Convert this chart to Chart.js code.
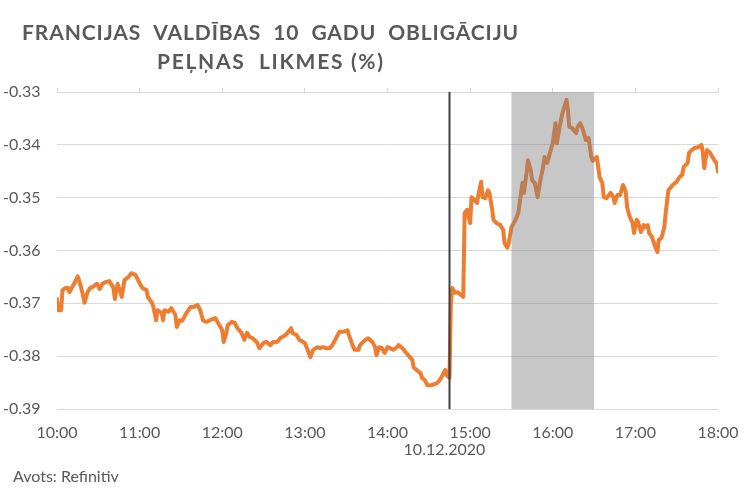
<!DOCTYPE html>
<html>
<head>
<meta charset="utf-8">
<script src="https://cdn.jsdelivr.net/npm/chart.js@4.4.1/dist/chart.umd.min.js"></script>
<style>
  html, body { margin: 0; padding: 0; background: #ffffff; }
  #wrap { width: 750px; height: 488px; }
</style>
</head>
<body>
<div id="wrap"><canvas id="c" width="750" height="488"></canvas></div>
<script>
// ---- Data (minutes after 10:00 on 10.12.2020, yield in %) ----
const titleLines = ["FRANCIJAS  VALDĪBAS  10  GADU  OBLIGĀCIJU", "PEĻŅAS  LIKMES (%)"];
const sourceText = "Avots: Refinitiv";
const dateLabel = "10.12.2020";
const yTicks = [-0.39, -0.38, -0.37, -0.36, -0.35, -0.34, -0.33];
const xTickHours = ["10:00", "11:00", "12:00", "13:00", "14:00", "15:00", "16:00", "17:00", "18:00"];
const markerMinute = 285;      // 14:45 vertical line
const shadeStartMinute = 330;  // 15:30
const shadeEndMinute = 390;    // 16:30

const minutes = [
  0, 1, 3, 4, 6, 8, 9, 12, 15, 16, 18, 20, 22, 24, 26, 29, 31, 33, 35, 38,
  41, 42, 44, 46, 47, 49, 52, 54, 57, 60, 62, 65, 66, 69, 70, 72, 73, 76, 77, 78,
  81, 83, 86, 87, 89, 91, 94, 97, 99, 102, 104, 106, 108, 109, 111, 115, 117, 120, 121, 123,
  124, 127, 129, 131, 134, 136, 138, 140, 142, 145, 147, 150, 152, 155, 157, 160, 162, 166, 168, 170,
  171, 174, 176, 180, 182, 184, 186, 189, 191, 193, 196, 198, 200, 203, 205, 208, 211, 212, 214, 216,
  219, 220, 224, 226, 229, 231, 232, 234, 236, 238, 240, 242, 244, 247, 248, 251, 253, 255, 258, 259,
  261, 264, 265, 267, 269, 272, 276, 278, 280, 282, 283, 285, 286, 287, 289, 291, 295, 296, 298, 299,
  300, 301, 303, 305, 306, 308, 309, 311, 313, 314, 316, 317, 319, 322, 324, 325, 327, 328, 330, 333,
  335, 336, 338, 339, 341, 342, 344, 345, 347, 349, 351, 353, 354, 356, 358, 360, 362, 363, 365, 367,
  370, 371, 372, 374, 375, 377, 378, 380, 382, 384, 386, 388, 389, 392, 394, 396, 397, 399, 402, 404,
  405, 407, 409, 411, 413, 414, 416, 418, 419, 421, 422, 424, 426, 427, 429, 430, 432, 434, 436, 437,
  439, 441, 442, 444, 447, 450, 452, 454, 455, 458, 459, 461, 463, 466, 468, 469, 470, 472, 474, 476,
  478, 479, 480
];
const yields = [
  -0.3692, -0.3713, -0.3713, -0.3675, -0.3671, -0.3671, -0.3679, -0.3665, -0.3649, -0.3656, -0.3675, -0.3699, -0.3680, -0.3671, -0.3669, -0.3663, -0.3673, -0.3663, -0.3660, -0.3658,
  -0.3671, -0.3692, -0.3663, -0.3679, -0.3688, -0.3656, -0.3650, -0.3643, -0.3646, -0.3662, -0.3671, -0.3675, -0.3688, -0.3699, -0.3707, -0.3732, -0.3713, -0.3718, -0.3732, -0.3713,
  -0.3716, -0.3709, -0.3722, -0.3745, -0.3732, -0.3733, -0.3718, -0.3707, -0.3707, -0.3703, -0.3713, -0.3732, -0.3735, -0.3735, -0.3732, -0.3728, -0.3737, -0.3751, -0.3773, -0.3756,
  -0.3741, -0.3735, -0.3737, -0.3747, -0.3756, -0.3769, -0.3756, -0.3764, -0.3766, -0.3773, -0.3785, -0.3775, -0.3773, -0.3779, -0.3773, -0.3773, -0.3766, -0.3760, -0.3754, -0.3747,
  -0.3756, -0.3760, -0.3769, -0.3775, -0.3788, -0.3802, -0.3788, -0.3783, -0.3785, -0.3783, -0.3785, -0.3785, -0.3779, -0.3764, -0.3754, -0.3754, -0.3751, -0.3760, -0.3775, -0.3788,
  -0.3788, -0.3779, -0.3769, -0.3766, -0.3773, -0.3783, -0.3798, -0.3783, -0.3785, -0.3794, -0.3783, -0.3785, -0.3788, -0.3783, -0.3779, -0.3785, -0.3792, -0.3798, -0.3807, -0.3821,
  -0.3826, -0.3832, -0.3841, -0.3845, -0.3855, -0.3855, -0.3851, -0.3845, -0.3836, -0.3826, -0.3836, -0.3841, -0.3700, -0.3671, -0.3680, -0.3679, -0.3688, -0.3529, -0.3523, -0.3537,
  -0.3548, -0.3499, -0.3504, -0.3510, -0.3495, -0.3470, -0.3499, -0.3501, -0.3486, -0.3491, -0.3523, -0.3542, -0.3548, -0.3552, -0.3561, -0.3586, -0.3595, -0.3586, -0.3556, -0.3542,
  -0.3529, -0.3510, -0.3472, -0.3491, -0.3453, -0.3429, -0.3448, -0.3467, -0.3472, -0.3499, -0.3467, -0.3442, -0.3423, -0.3434, -0.3415, -0.3397, -0.3359, -0.3397, -0.3366, -0.3340,
  -0.3315, -0.3334, -0.3366, -0.3368, -0.3372, -0.3378, -0.3366, -0.3359, -0.3372, -0.3391, -0.3387, -0.3423, -0.3430, -0.3423, -0.3461, -0.3472, -0.3499, -0.3501, -0.3491, -0.3499,
  -0.3510, -0.3495, -0.3495, -0.3476, -0.3489, -0.3518, -0.3537, -0.3548, -0.3567, -0.3542, -0.3546, -0.3565, -0.3552, -0.3556, -0.3552, -0.3567, -0.3574, -0.3590, -0.3603, -0.3580,
  -0.3576, -0.3556, -0.3529, -0.3486, -0.3476, -0.3470, -0.3461, -0.3457, -0.3442, -0.3434, -0.3415, -0.3410, -0.3406, -0.3404, -0.3400, -0.3415, -0.3444, -0.3410, -0.3414, -0.3423,
  -0.3432, -0.3434, -0.3451
];

const points = minutes.map((m, i) => ({ x: m, y: yields[i] }));
const TEXT = '#595959';
const GRID = '#D9D9D9';
const FONT = "Lato, 'Open Sans', sans-serif";
const titleWidths = [496, 226];

const overlayPlugin = {
  id: 'overlay',
  afterDatasetsDraw(chart) {
    const { ctx, chartArea: a, scales } = chart;
    const x = scales.x;
    ctx.save();
    const s0 = x.getPixelForValue(shadeStartMinute), s1 = x.getPixelForValue(shadeEndMinute);
    ctx.fillStyle = 'rgba(127,127,127,0.44)';
    ctx.fillRect(s0, a.top, s1 - s0, a.bottom - a.top);
    const mx = Math.round(x.getPixelForValue(markerMinute)) + 0.5;
    ctx.strokeStyle = '#404040';
    ctx.lineWidth = 2;
    ctx.beginPath();
    ctx.moveTo(mx, a.top);
    ctx.lineTo(mx, a.bottom);
    ctx.stroke();
    ctx.restore();
  },
  afterDraw(chart) {
    const { ctx, scales } = chart;
    ctx.save();
    ctx.fillStyle = TEXT;
    ctx.font = "bold 21px " + FONT;
    ctx.textAlign = 'left';
    ctx.textBaseline = 'middle';
    const cx = 270;
    [[titleLines[0], 33], [titleLines[1], 62]].forEach(([t, y], i) => {
      ctx.letterSpacing = '0px';
      const w0 = ctx.measureText(t).width;
      const n = [...t].length;
      const ls = Math.max(0, (titleWidths[i] - w0) / (n - 1));
      ctx.letterSpacing = ls.toFixed(2) + 'px';
      ctx.fillText(t, cx - titleWidths[i] / 2, y);
    });
    ctx.letterSpacing = '0px';
    ctx.font = "16px " + FONT;
    ctx.textAlign = 'center';
    ctx.fillText(dateLabel, scales.x.getPixelForValue(markerMinute) - 5, 450);
    ctx.textAlign = 'left';
    ctx.fillText(sourceText, 13, 477);
    ctx.restore();
  }
};

function noSidePadding(scale) { scale.paddingLeft = 0; scale.paddingRight = 0; }

new Chart(document.getElementById('c'), {
  type: 'line',
  data: {
    datasets: [{
      data: points,
      borderColor: '#ED7D31',
      borderWidth: 4,
      pointRadius: 0,
      tension: 0,
      fill: false,
      borderJoinStyle: 'round',
      borderCapStyle: 'round'
    }]
  },
  options: {
    responsive: false,
    animation: false,
    devicePixelRatio: 1,
    layout: { padding: { top: 88, left: 3, right: 32, bottom: 0 } },
    plugins: { legend: { display: false }, tooltip: { enabled: false }, title: { display: false } },
    scales: {
      x: {
        type: 'linear', position: 'bottom', min: 0, max: 480,
        afterBuildTicks(scale) { scale.ticks = xTickHours.map((_, i) => ({ value: i * 60 })); },
        ticks: {
          autoSkip: false, maxRotation: 0, padding: 14, color: TEXT,
          font: { family: FONT, size: 16 },
          callback: (v, i) => xTickHours[i]
        },
        grid: { display: false, drawTicks: false },
        border: { display: false },
        afterFit(scale) { scale.height = 79; noSidePadding(scale); }
      },
      x2: {
        type: 'linear', position: 'top', min: 0, max: 480,
        afterBuildTicks(scale) { scale.ticks = xTickHours.map((_, i) => ({ value: i * 60 })); },
        ticks: { display: false },
        grid: { drawOnChartArea: false, drawTicks: true, tickLength: 4, color: GRID },
        border: { display: false },
        afterFit(scale) { scale.height = 4; noSidePadding(scale); }
      },
      y: {
        min: yTicks[0], max: yTicks[yTicks.length - 1],
        afterBuildTicks(scale) { scale.ticks = yTicks.map(v => ({ value: v })); },
        ticks: {
          crossAlign: 'far', color: TEXT, font: { family: FONT, size: 16 },
          callback: v => v.toFixed(2)
        },
        grid: { color: GRID, lineWidth: 1, drawTicks: false },
        border: { display: false },
        afterFit(scale) { scale.width = 54; }
      }
    }
  },
  plugins: [overlayPlugin]
});
</script>
</body>
</html>
